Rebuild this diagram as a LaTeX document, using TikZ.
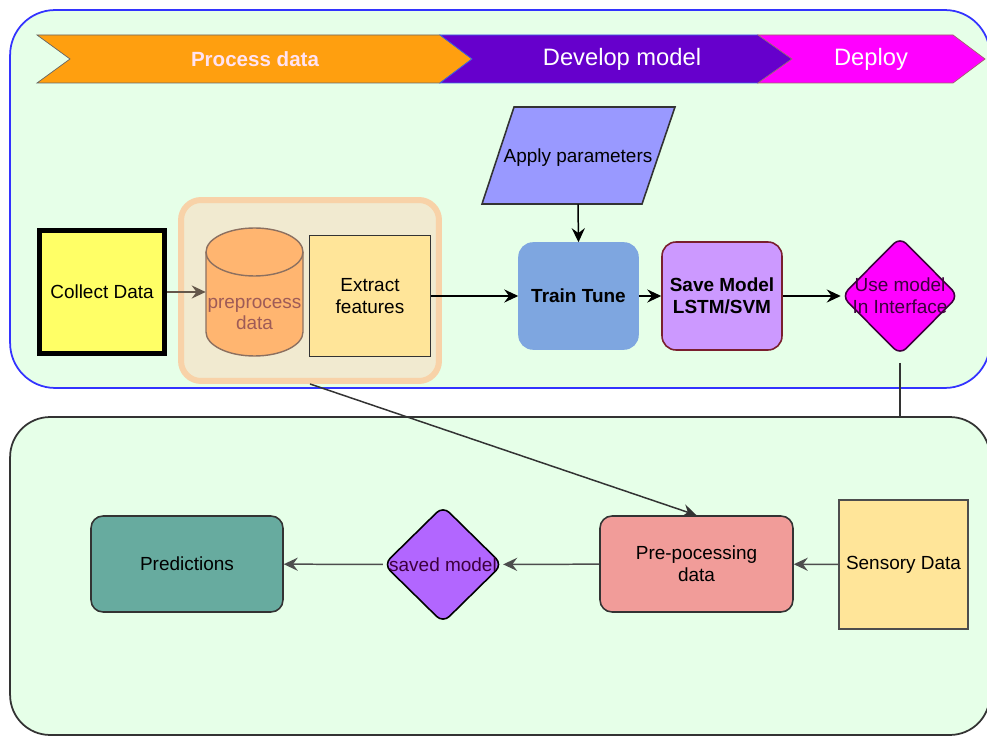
\documentclass[tikz,border=0pt]{standalone}
\usepackage{fontspec}
\setmainfont{Liberation Sans}
\usepackage{xcolor}
\usetikzlibrary{positioning, calc, shapes.geometric, arrows.meta}

\definecolor{bggreen}{HTML}{E6FFE8}
\definecolor{frameblue}{HTML}{3333FF}
\definecolor{darkline}{HTML}{333333}
\definecolor{bannerorange}{HTML}{FF9F0F}
\definecolor{bannerpurple}{HTML}{6600CC}
\definecolor{bannermagenta}{HTML}{FF00FF}
\definecolor{palepink}{HTML}{FFE2F2}
\definecolor{collectyellow}{HTML}{FFFF66}
\definecolor{groupfill}{HTML}{F1EAD0}
\definecolor{groupline}{HTML}{F8D2A8}
\definecolor{cylfill}{HTML}{FFB570}
\definecolor{cylline}{HTML}{8C7060}
\definecolor{cyltext}{HTML}{9E5B57}
\definecolor{featfill}{HTML}{FFE599}
\definecolor{paramfill}{HTML}{9999FF}
\definecolor{trainfill}{HTML}{7EA6E0}
\definecolor{savefill}{HTML}{CC99FF}
\definecolor{saveline}{HTML}{7A1F2E}
\definecolor{usetext}{HTML}{3D003D}
\definecolor{preprofill}{HTML}{F19C99}
\definecolor{savedfill}{HTML}{B266FF}
\definecolor{predfill}{HTML}{67AB9F}
\definecolor{graylink}{HTML}{4D4D4D}

\begin{document}
\begin{tikzpicture}[x=0.02cm, y=-0.02cm,
    font=\fontsize{10.8}{12.5}\selectfont,
    container/.style={draw, fill=bggreen, line width=1pt, inner sep=0pt},
    box/.style={draw=darkline, line width=0.9pt, align=center, inner sep=0pt, text=black},
    diam/.style={diamond, draw, line width=0.9pt, inner sep=0pt, rounded corners=5pt},
    arr/.style={-{Stealth[length=8pt, width=7.5pt, inset=2.8pt]}, line width=0.85pt},
    banner/.style={text=white, font=\fontsize{13.5}{15}\selectfont}]
    \useasboundingbox (0,0) rectangle (987,736);

    % the two swim areas
    \node[container, draw=frameblue, rounded corners=0.9cm, minimum width=19.6cm, minimum height=7.56cm] (upper) at (500,199) {};
    \node[container, draw=darkline, rounded corners=0.8cm, minimum width=19.6cm, minimum height=6.36cm] (lower) at (500,576) {};

    % phase banner
    \draw[fill=bannerorange, draw=gray!80!black] (37,35) -- (440,35) -- (472,59) -- (440,83) -- (37,83) -- (70,59) -- cycle;
    \draw[fill=bannerpurple, draw=bannerpurple!60!cyan] (440,35) -- (758,35) -- (792,59) -- (758,83) -- (440,83) -- (472,59) -- cycle;
    \draw[fill=bannermagenta, draw=saveline!70] (758,35) -- (953,35) -- (985,59) -- (953,83) -- (758,83) -- (792,59) -- cycle;
    \node[text=palepink, font=\fontsize{11.7}{14}\selectfont\bfseries] (process) at (255,59) {Process data};
    \node[banner] (develop) at (622,59) {Develop model};
    \node[banner] (deploy) at (871,59) {Deploy};

    % training pipeline
    \node[draw=groupline, fill=groupfill, line width=3.4pt, rounded corners=0.4cm, minimum width=5.16cm, minimum height=3.62cm] (grp) at (310,290.5) {};
    \node[box, draw=black, line width=2.8pt, fill=collectyellow, minimum width=2.5cm, minimum height=2.46cm] (collect) at (102,292) {Collect Data};
    % cylinder drawn by hand
    \draw[fill=cylfill, draw=cylline, line width=0.8pt] (206,252) -- (206,332)
        arc[start angle=180, end angle=360, x radius=0.97cm, y radius=0.48cm] -- (303,252)
        arc[start angle=0, end angle=180, x radius=0.97cm, y radius=0.48cm] -- cycle;
    \draw[draw=cylline, line width=0.8pt] (206,252) arc[start angle=180, end angle=360, x radius=0.97cm, y radius=0.48cm];
    \node[minimum width=1.94cm, minimum height=2.56cm, inner sep=0pt,
        label={[text=cyltext, align=center, yshift=-0.44cm]center:preprocess\\data}] (cyl) at (254.5,292) {};
    \node[box, fill=featfill, minimum width=2.42cm, minimum height=2.42cm] (feat) at (370,296) {Extract\\features};
    \draw[fill=paramfill, draw=darkline, line width=0.9pt] (514,107) -- (675,107) -- (642,204) -- (482,204) -- cycle;
    \node[minimum height=1.94cm, inner sep=0pt, text depth=-3pt] (param) at (578,155.5) {Apply parameters};
    \node[box, draw=trainfill, fill=trainfill, rounded corners=0.28cm, minimum width=2.38cm, minimum height=2.12cm, font=\fontsize{10.8}{12.5}\selectfont\bfseries] (train) at (578.5,296) {Train Tune};
    \node[box, draw=saveline, fill=savefill, rounded corners=0.28cm, minimum width=2.4cm, minimum height=2.16cm, font=\fontsize{10.8}{12.5}\selectfont\bfseries] (save) at (722,296) {Save Model\\LSTM/SVM};
    \node[diam, draw=usetext, fill=bannermagenta, minimum width=2.34cm, minimum height=2.36cm,
        label={[text=usetext, align=center]center:Use model\\In Interface}] (use) at (900,296) {};

    \draw[arr, draw=graylink!80!brown] (collect) -- (cyl);
    \draw[arr] (feat.east |- train) -- (train);
    \draw[arr] (param.south) -- (train.north);
    \draw[arr] (train) -- (save);
    \draw[arr] (save) -- (use);
    \draw[line width=0.85pt, draw=darkline, shorten <=4pt] (use.south) -- (use.south |- lower.north);

    % inference pipeline
    \node[box, fill=featfill, draw=graylink, minimum width=2.58cm, minimum height=2.58cm] (sensor) at (903.5,564.5) {Sensory Data};
    \node[box, fill=preprofill, rounded corners=0.24cm, minimum width=3.86cm, minimum height=1.92cm] (prepro) at (696.5,564) {Pre-pocessing\\data};
    \node[diam, draw=black, fill=savedfill, minimum width=2.38cm, minimum height=2.34cm,
        label={[text=usetext]center:saved model}] (saved) at (443,564.5) {};
    \node[box, fill=predfill, rounded corners=0.24cm, minimum width=3.84cm, minimum height=1.92cm] (pred) at (187,564) {Predictions};

    \draw[arr, draw=graylink] (sensor) -- (prepro);
    \draw[arr, draw=graylink] (prepro) -- (saved);
    \draw[arr, draw=graylink] (saved) -- (pred);
    \draw[arr, draw=darkline] (grp.south) -- (prepro.north);
\end{tikzpicture}
\end{document}
